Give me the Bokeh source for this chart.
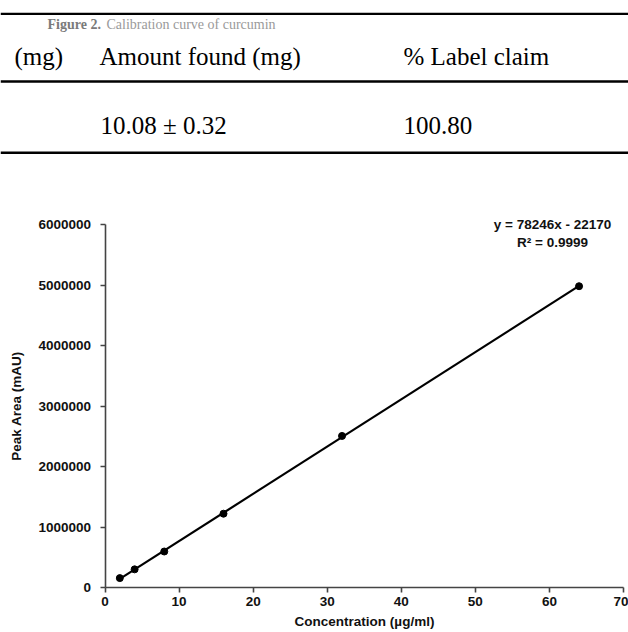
import numpy as np
from bokeh.plotting import figure
from bokeh.models import Range1d, FixedTicker, BasicTickFormatter, Span, ColumnDataSource
from bokeh.core.properties import value
from bokeh.embed import file_html
from bokeh.resources import INLINE

# ---- data ----
concentration = [2, 4, 8, 16, 32, 64]
peak_area = [160000, 305000, 600000, 1225000, 2510000, 4985000]
x_ticks = [0, 10, 20, 30, 40, 50, 60, 70]
y_ticks = [0, 1000000, 2000000, 3000000, 4000000, 5000000, 6000000]
equation_lines = ["y = 78246x - 22170", "R\u00b2 = 0.9999"]
x_label = "Concentration (\u00b5g/ml)"
y_label = "Peak Area (mAU)"

caption_bold = "Figure 2."
caption_text = "Calibration curve of curcumin"
table_header = ["(mg)", "Amount found (mg)", "% Label claim"]
table_row = ["10.08 \u00b1 0.32", "100.80"]

# ---- layout (pixel geometry of the page) ----
W, H = 628, 632
X0_PX, X70_PX = 104.5, 623.0      # where x=0 and x=70 fall
Y0_PX, Y6M_PX = 587.3, 224.3      # where y=0 and y=6e6 fall
sx = (X70_PX - X0_PX) / 70.0
sy = (Y0_PX - Y6M_PX) / 6000000.0


def px_x(px):
    return (px - X0_PX) / sx


def px_y(py):
    return (Y0_PX - py) / sy


p = figure(width=W, height=H,
           x_range=Range1d(px_x(0), px_x(W)), y_range=Range1d(px_y(H), px_y(0)),
           output_backend="svg", toolbar_location=None, min_border=0)
p.grid.visible = False
p.outline_line_color = None
p.background_fill_color = "white"

# ---- table fragment on top ----
for py, lw in [(13.3, 2.2), (81.0, 2.6), (152.3, 2.4)]:
    p.add_layout(Span(location=px_y(py), dimension="width", line_color="black", line_width=lw))

p.text(x=[px_x(47)], y=[px_y(24)], text=[caption_bold], text_font=value("Liberation Serif"),
       text_font_style="bold", text_font_size="14px", text_color="#7a7a7a",
       text_align="left", text_baseline="alphabetic")
p.text(x=[px_x(106)], y=[px_y(24)], text=[caption_text], text_font=value("Liberation Serif"),
       text_font_size="14px", text_color="#9a9a9a",
       text_align="left", text_baseline="alphabetic")

hdr = ColumnDataSource(dict(x=[px_x(v) for v in (14, 99, 403)], y=[px_y(55.5)] * 3, text=table_header))
p.text(x="x", y="y", text="text", source=hdr, text_font=value("Liberation Serif"),
       text_font_size="25px", text_color="black", text_align="left", text_baseline="alphabetic")
row = ColumnDataSource(dict(x=[px_x(v) for v in (100, 403)], y=[px_y(125)] * 2, text=table_row))
p.text(x="x", y="y", text="text", source=row, text_font=value("Liberation Serif"),
       text_font_size="25px", text_color="black", text_align="left", text_baseline="alphabetic")

# ---- chart ----
slope, intercept = np.polyfit(concentration, peak_area, 1)
xs = [min(concentration), max(concentration)]
p.line(x=xs, y=[slope * v + intercept for v in xs], line_color="black", line_width=2.2)
p.scatter(x=concentration, y=peak_area, size=7, fill_color="black", line_color="black")

p.xaxis.fixed_location = 0
p.yaxis.fixed_location = 0
p.xaxis.bounds = (x_ticks[0], x_ticks[-1])
p.yaxis.bounds = (y_ticks[0], y_ticks[-1])
p.xaxis.ticker = FixedTicker(ticks=x_ticks)
p.yaxis.ticker = FixedTicker(ticks=y_ticks)
p.yaxis.formatter = BasicTickFormatter(use_scientific=False)
p.xaxis.axis_label = x_label
p.yaxis.axis_label = y_label
for ax in (p.xaxis[0], p.yaxis[0]):
    ax.axis_line_color = "#444444"
    ax.axis_line_width = 1.6
    ax.major_tick_line_color = "#444444"
    ax.major_tick_line_width = 1.6
    ax.major_tick_in = 0
    ax.major_tick_out = 5
    ax.minor_tick_line_color = None
    ax.major_label_text_font = "Liberation Sans"
    ax.major_label_text_font_style = "bold"
    ax.major_label_text_font_size = "13.5px"
    ax.major_label_text_color = "#111111"
    ax.axis_label_text_font = "Liberation Sans"
    ax.axis_label_text_font_style = "bold"
    ax.axis_label_text_font_size = "13.5px"
    ax.axis_label_text_color = "#111111"
p.xaxis.major_label_standoff = 4
p.xaxis.axis_label_standoff = 5
p.yaxis.major_label_standoff = 9
p.yaxis.axis_label_standoff = 12

eq = ColumnDataSource(dict(x=[px_x(552)] * 2, y=[px_y(224.0), px_y(241.7)], text=equation_lines))
p.text(x="x", y="y", text="text", source=eq, text_font=value("Liberation Sans"),
       text_font_style="bold", text_font_size="13.5px", text_color="#111111",
       text_align="center", text_baseline="middle")

open("out.html", "w").write(file_html(p, INLINE))
